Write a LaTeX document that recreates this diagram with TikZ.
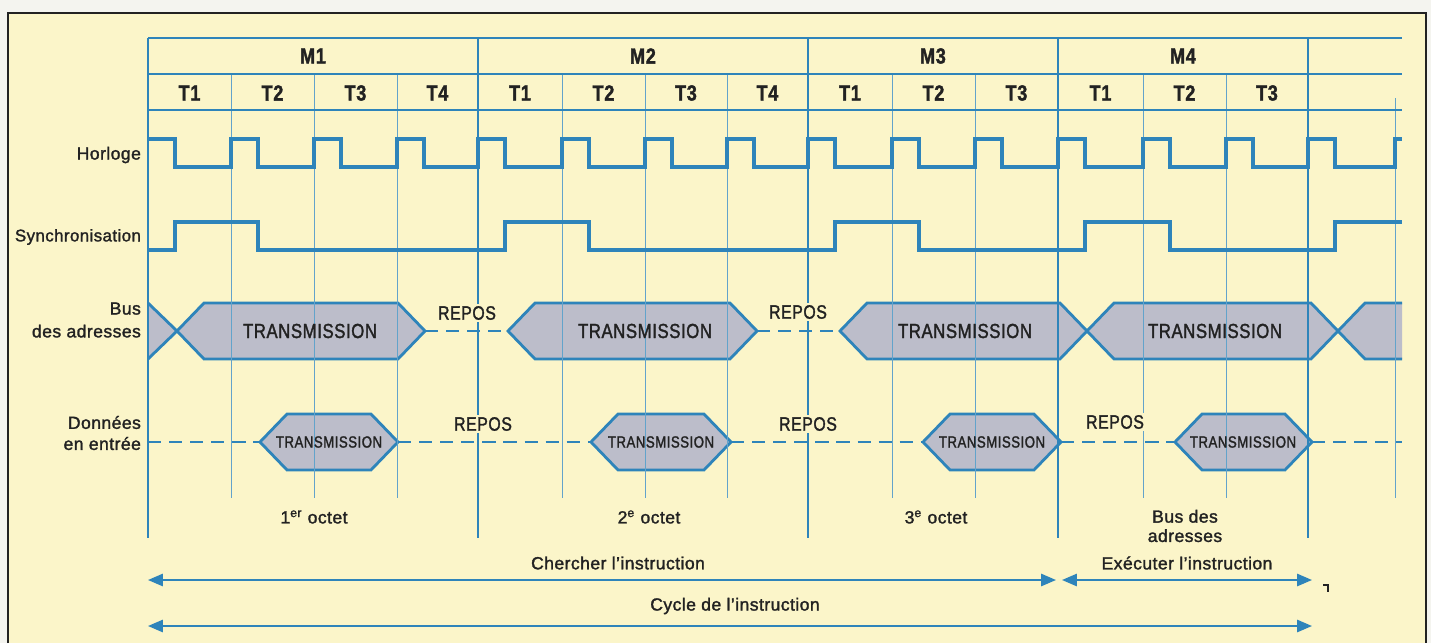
\documentclass[tikz,border=0pt]{standalone}
\usepackage{fontspec}
\setmainfont{Liberation Sans}[FakeBold=1.6, LetterSpace=2.5]
\newfontfamily\etroit{Liberation Sans}[FakeStretch=0.82, FakeBold=1.6, LetterSpace=3]
\usetikzlibrary{arrows.meta}

\definecolor{papier}{HTML}{F4F4EF}
\definecolor{fond}{HTML}{FBF5C9}
\definecolor{bleu}{HTML}{2E84BA}
\definecolor{gris}{HTML}{BCBDCA}
\definecolor{encre}{HTML}{222222}

% hexagone : pointe gauche, pointe droite, milieu
\newcommand{\paquet}[3]{%
	\draw[hexa] (#1,#3) -- (#1+27,#3-28) -- (#2-27,#3-28)
		-- (#2,#3) -- (#2-27,#3+28) -- (#1+27,#3+28) -- cycle;}

\begin{document}
\begin{tikzpicture}[
		x=0.02cm, y=-0.02cm,
		cadre/.style={draw=encre, line width=1.1pt},
		grille/.style={draw=bleu, line width=1.4pt},
		fine/.style={draw=bleu!75, line width=0.55pt},
		onde/.style={draw=bleu, line width=1.9pt},
		hexa/.style={draw=bleu, line width=1.6pt, fill=gris},
		tiret/.style={draw=bleu, line width=1.6pt, dash pattern=on 7.5pt off 4.5pt},
		fleche/.style={draw=bleu, line width=1.1pt, >={Triangle[length=8.5pt,width=7pt]}, <->},
		txt/.style={text=encre, inner sep=1pt, font=\fontsize{10}{12.5}\selectfont},
		tete/.style={text=encre, font=\etroit\bfseries\fontsize{12.5}{13}\selectfont},
		repos/.style={text=encre, fill=fond, inner sep=1pt, font=\etroit\fontsize{11}{13}\selectfont},
		grand/.style={text=encre, font=\etroit\fontsize{11.6}{13}\selectfont},
		petit/.style={text=encre, font=\etroit\fontsize{9.2}{11}\selectfont}
	]
	\path[use as bounding box, fill=papier] (0,0) rectangle (1431,643);
	\fill[fond] (8,13) rectangle (1426,643);
	\draw[cadre] (8,643) |- (1426,13) -- (1426,643);

	% bus des adresses
	\fill[gris] (148,303) -- (177,331) -- (148,359) -- cycle;
	\draw[hexa, fill=none] (148,303) -- (177,331) -- (148,359);
	\paquet{177}{425}{331}
	\paquet{508}{757}{331}
	\paquet{840}{1087}{331}
	\paquet{1087}{1338}{331}
	\fill[gris] (1402,303) -- (1365,303) -- (1338,331) -- (1365,359) -- (1402,359) -- cycle;
	\draw[hexa, fill=none] (1402,303) -- (1365,303) -- (1338,331) -- (1365,359) -- (1402,359);
	\draw[tiret] (425,331) -- (508,331) (757,331) -- (840,331);

	% donnees en entree
	\paquet{260}{398}{442}
	\paquet{591}{731}{442}
	\paquet{923}{1061}{442}
	\paquet{1175}{1312}{442}
	\draw[tiret] (148,442) -- (260,442) (398,442) -- (591,442) (731,442) -- (923,442)
		(1061,442) -- (1175,442) (1312,442) -- (1402,442);

	% grille
	\foreach \x in {231,314,397,562,645,727,892,975,1143,1226}
		\draw[fine] (\x,74) -- (\x,498);
	\draw[fine] (1395,98) -- (1395,498);
	\foreach \x in {148,478,808,1058,1308}
		\draw[grille] (\x,38) -- (\x,538);
	\foreach \y in {38,74,110}
		\draw[grille] (148,\y) -- (1402,\y);

	% horloge et synchronisation
	\draw[onde] (148,139) \foreach \t in {231,314,397,478,562,645,727,808,892,975,1058,1143,1226,1308,1395}
		{ -- ++(27,0) |- (\t,167) -- (\t,139)} -- (1402,139);
	\draw[onde] (148,250) -| (175,222) -| (258,250) -| (505,222) -| (589,250) -| (835,222)
		-| (919,250) -| (1085,222) -| (1170,250) -| (1335,222) -- (1402,222);

	% en-tetes
	\foreach \a/\b/\n in {148/478/1,478/808/2,808/1058/3,1058/1308/4}
		\node[tete] (m\n) at ({(\a+\b)/2},56) {M\n};
	\foreach \a/\b/\n in {148/231/1,231/314/2,314/397/3,397/478/4,478/562/1,562/645/2,645/727/3,727/808/4,
		808/892/1,892/975/2,975/1058/3,1058/1143/1,1143/1226/2,1226/1308/3}
		\node[tete] (t\a) at ({(\a+\b)/2},93) {T\n};

	% libelles
	\node[txt, anchor=east] (horloge) at (143,155) {Horloge};
	\node[txt, anchor=east, font=\fontsize{9.6}{12}\selectfont] (synchro) at (143,237) {Synchronisation};
	\node[txt, anchor=east, align=right, font=\fontsize{10}{13}\selectfont] (adresses) at (143,320) {Bus\\des adresses};
	\node[txt, anchor=east, align=right, font=\fontsize{10}{12}\selectfont] (donnees) at (143,433) {Données\\en entrée};

	\node[grand] (tb1) at (310,331) {TRANSMISSION};
	\node[grand] (tb2) at (645,331) {TRANSMISSION};
	\node[grand] (tb3) at (965,331) {TRANSMISSION};
	\node[grand] (tb4) at (1215,331) {TRANSMISSION};
	\node[petit] (td1) at (329,442) {TRANSMISSION};
	\node[petit] (td2) at (661,442) {TRANSMISSION};
	\node[petit] (td3) at (992,442) {TRANSMISSION};
	\node[petit] (td4) at (1243,442) {TRANSMISSION};

	\node[repos] (rb1) at (467,313) {REPOS};
	\node[repos] (rb2) at (798,312) {REPOS};
	\node[repos] (rd1) at (483,424) {REPOS};
	\node[repos] (rd2) at (808,424) {REPOS};
	\node[repos] (rd3) at (1115,422) {REPOS};

	\node[txt] (octet1) at (314,517) {1\textsuperscript{er} octet};
	\node[txt] (octet2) at (649,517) {2\textsuperscript{e} octet};
	\node[txt] (octet3) at (936,517) {3\textsuperscript{e} octet};
	\node[txt, align=center, font=\fontsize{10}{11}\selectfont] (busadr) at (1185,526) {Bus des\\adresses};

	% cycle
	\node[txt] (chercher) at (618,563) {Chercher l’instruction};
	\node[txt] (executer) at (1187,563) {Exécuter l’instruction};
	\node[txt] (cycle) at (735,606) {Cycle de l’instruction};
	\coordinate (c1) at (148,580);
	\coordinate (c2) at (1056,580);
	\coordinate (e1) at (1062,580);
	\coordinate (e2) at (1312,580);
	\coordinate (y1) at (148,626);
	\coordinate (y2) at (1312,626);
	\draw[fleche] (c1) -- (c2);
	\draw[fleche] (e1) -- (e2);
	\draw[fleche] (y1) -- (y2);
	\draw[encre, line width=0.8pt] (1323,585) -- (1328,585) -- (1328,592);
\end{tikzpicture}
\end{document}
